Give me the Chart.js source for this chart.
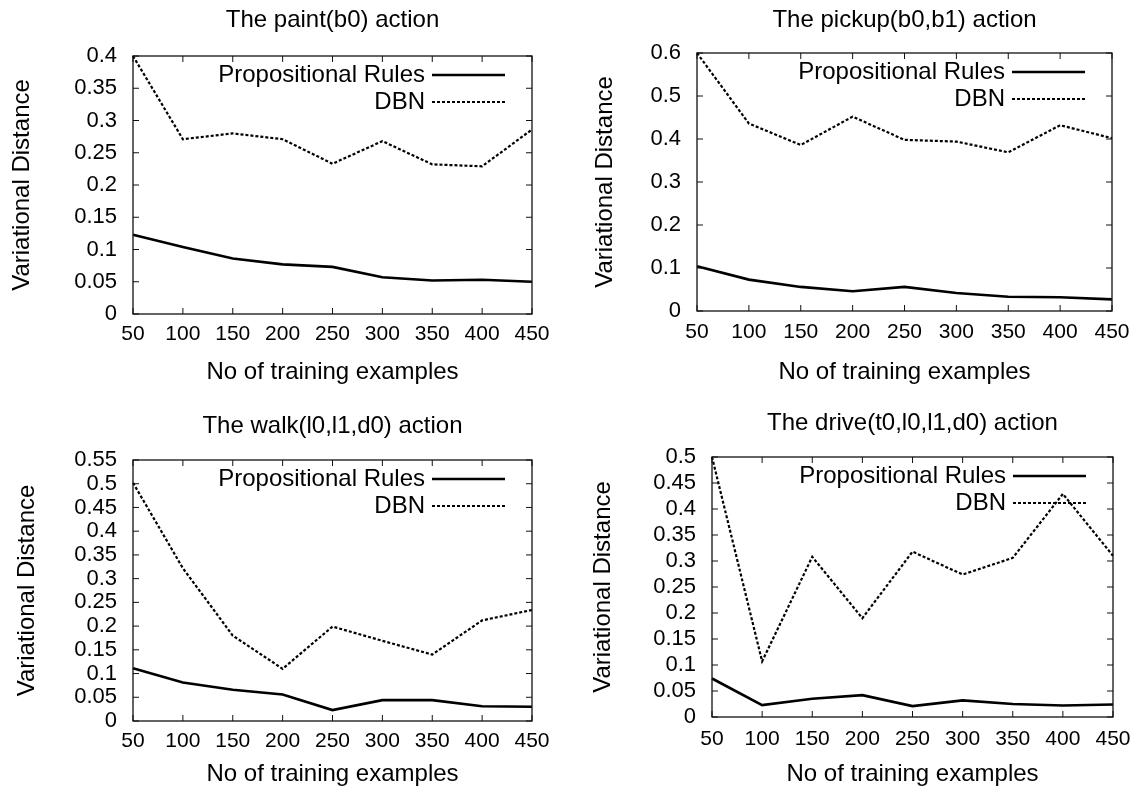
<!DOCTYPE html>
<html>
<head>
<meta charset="utf-8">
<script src="https://cdn.jsdelivr.net/npm/chart.js@4.4.1/dist/chart.umd.min.js"></script>
<style>
body { margin:0; background:#fff; width:1146px; height:791px; overflow:hidden; position:relative; }
.panel { position:absolute; }
</style>
</head>
<body>
<div class="panel" style="left:0px;top:0px"><canvas id="c0" width="573" height="395"></canvas></div>
<div class="panel" style="left:573px;top:0px"><canvas id="c1" width="573" height="395"></canvas></div>
<div class="panel" style="left:0px;top:395px"><canvas id="c2" width="573" height="396"></canvas></div>
<div class="panel" style="left:573px;top:395px"><canvas id="c3" width="573" height="396"></canvas></div>
<script>
const steps = [50, 100, 150, 200, 250, 300, 350, 400, 450];
const seriesNames = ['Propositional Rules', 'DBN'];
const titles = ['The paint(b0) action', 'The pickup(b0,b1) action', 'The walk(l0,l1,d0) action', 'The drive(t0,l0,l1,d0) action'];
const xTitle = 'No of training examples';
const yTitle = 'Variational Distance';

const paintRules  = [0.123, 0.104, 0.086, 0.077, 0.073, 0.057, 0.052, 0.053, 0.050];
const paintDBN    = [0.400, 0.271, 0.280, 0.271, 0.233, 0.268, 0.232, 0.229, 0.286];
const pickupRules = [0.104, 0.073, 0.056, 0.046, 0.056, 0.042, 0.033, 0.032, 0.027];
const pickupDBN   = [0.600, 0.436, 0.386, 0.452, 0.398, 0.394, 0.369, 0.432, 0.402];
const walkRules   = [0.111, 0.081, 0.066, 0.056, 0.023, 0.044, 0.044, 0.031, 0.030];
const walkDBN     = [0.502, 0.322, 0.180, 0.110, 0.199, 0.169, 0.140, 0.212, 0.234];
const driveRules  = [0.074, 0.023, 0.035, 0.042, 0.021, 0.032, 0.025, 0.022, 0.024];
const driveDBN    = [0.500, 0.107, 0.308, 0.190, 0.318, 0.274, 0.306, 0.429, 0.310];

const yMax  = [0.4, 0.6, 0.55, 0.5];
const yStep = [0.05, 0.1, 0.05, 0.05];

// plot box of each panel, in canvas coordinates (ttl = title centre y)
const boxes = [
  {l:133, r:532, t:56, b:314, ttl:20, ylab:22, xlab:372, tick:333},
  {l:124, r:539, t:53, b:311, ttl:20, ylab:32, xlab:372, tick:331},
  {l:133, r:532, t:65, b:326, ttl:31, ylab:27, xlab:379, tick:345},
  {l:139, r:540, t:62, b:322, ttl:28, ylab:30, xlab:379, tick:343}
];

const FAMILY = "'Liberation Sans', Arial, Helvetica, sans-serif";
const BIG = 24;   // titles, axis titles, key
Chart.defaults.font.family = FAMILY;
Chart.defaults.color = '#000';

// gnuplot style frame: full box and inward ticks on all four sides
const framePlugin = {
  id: 'frame',
  afterDatasetsDraw(chart) {
    const {ctx, chartArea: a, scales} = chart;
    ctx.save();
    ctx.strokeStyle = '#111';
    ctx.lineWidth = 1.3;
    ctx.strokeRect(a.left, a.top, a.right - a.left, a.bottom - a.top);
    ctx.lineWidth = 1;
    scales.y.ticks.forEach(t => {
      const y = scales.y.getPixelForValue(t.value);
      ctx.beginPath();
      ctx.moveTo(a.left, y); ctx.lineTo(a.left + 6, y);
      ctx.moveTo(a.right, y); ctx.lineTo(a.right - 6, y);
      ctx.stroke();
    });
    steps.forEach((s, i) => {
      const x = scales.x.getPixelForValue(i);
      ctx.beginPath();
      ctx.moveTo(x, a.bottom); ctx.lineTo(x, a.bottom - 6);
      ctx.moveTo(x, a.top); ctx.lineTo(x, a.top + 6);
      ctx.stroke();
    });
    ctx.restore();
  }
};

// key in the top right corner: text first, sample line after it
const keyPlugin = {
  id: 'key',
  afterDatasetsDraw(chart) {
    const {ctx, chartArea: a} = chart;
    ctx.save();
    ctx.font = BIG + 'px ' + FAMILY;
    ctx.textAlign = 'right';
    ctx.textBaseline = 'middle';
    ctx.fillStyle = '#000';
    chart.data.datasets.forEach((ds, i) => {
      const y = a.top + 19 + i * 27;
      const x1 = a.right - 27, x0 = x1 - 73;
      ctx.fillText(ds.label, x0 - 7, y);
      ctx.strokeStyle = '#000';
      ctx.lineWidth = ds.borderWidth;
      ctx.setLineDash(ds.borderDash || []);
      ctx.beginPath(); ctx.moveTo(x0, y); ctx.lineTo(x1, y); ctx.stroke();
    });
    ctx.restore();
  }
};

function makeChart(idx, rules, dbn) {
  const bx = boxes[idx];
  const canvas = document.getElementById('c' + idx);
  const W = canvas.width, H = canvas.height;
  const half = BIG * 1.2 / 2;
  return new Chart(canvas.getContext('2d'), {
    type: 'line',
    plugins: [framePlugin, keyPlugin],
    data: {
      labels: steps,
      datasets: [
        {label: seriesNames[0], data: rules, borderColor: '#000', borderWidth: 2.6, pointRadius: 0, tension: 0, clip: 6},
        {label: seriesNames[1], data: dbn, borderColor: '#000', borderWidth: 2.2, borderDash: [3, 2], pointRadius: 0, tension: 0, clip: 6}
      ]
    },
    options: {
      responsive: false,
      animation: false,
      devicePixelRatio: 1,
      layout: {padding: {left: 0, right: W - bx.r, top: 0, bottom: 0}},
      plugins: {
        legend: {display: false},
        tooltip: {enabled: false},
        title: {display: true, fullSize: false, text: titles[idx], font: {size: BIG, weight: 'normal'},
                padding: {top: bx.ttl - half, bottom: bx.t - bx.ttl - half}}
      },
      scales: {
        x: {
          grid: {display: false, drawTicks: false},
          border: {display: false},
          ticks: {font: {size: 21}, padding: bx.tick - bx.b - 11, maxRotation: 0, autoSkip: false},
          title: {display: true, text: xTitle, font: {size: BIG}, padding: {top: 0, bottom: H - bx.xlab - half}},
          afterFit: s => { s.height = H - bx.b; }
        },
        y: {
          min: 0, max: yMax[idx],
          grid: {display: false, drawTicks: false},
          border: {display: false},
          ticks: {font: {size: 22}, padding: 16, stepSize: yStep[idx], autoSkip: false,
                  callback: v => String(+v.toFixed(2))},
          title: {display: true, text: yTitle, font: {size: BIG}, padding: {top: bx.ylab - half, bottom: 0}},
          afterFit: s => { s.width = bx.l; }
        }
      }
    }
  });
}

makeChart(0, paintRules, paintDBN);
makeChart(1, pickupRules, pickupDBN);
makeChart(2, walkRules, walkDBN);
makeChart(3, driveRules, driveDBN);
</script>
</body>
</html>
